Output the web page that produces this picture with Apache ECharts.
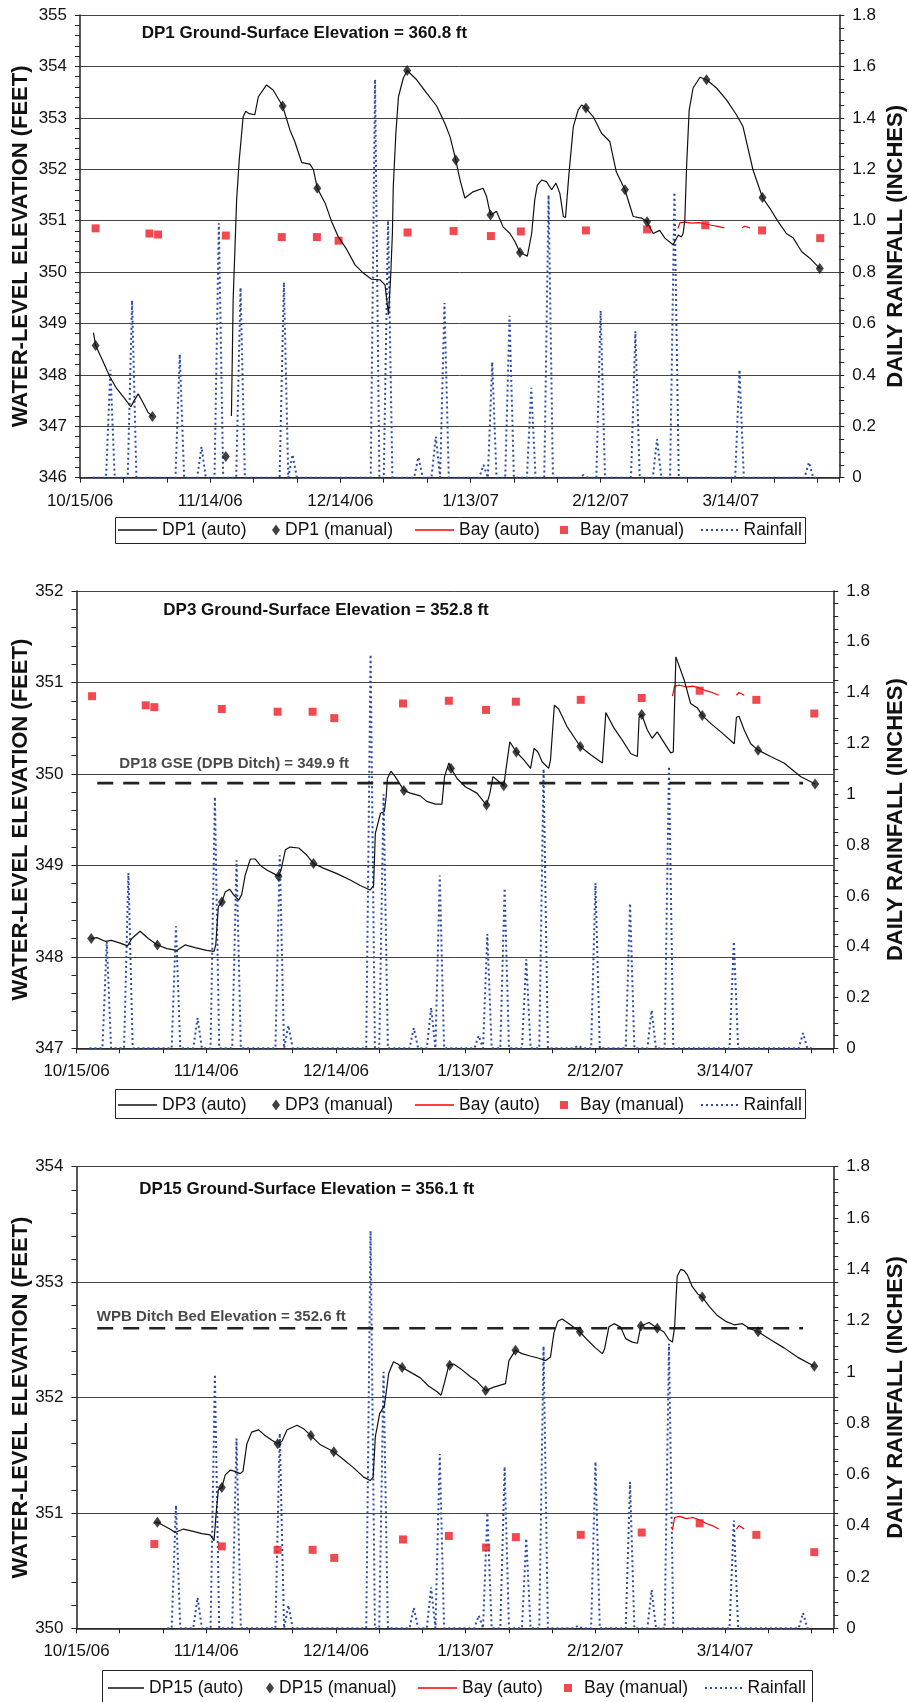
<!DOCTYPE html>
<html>
<head>
<meta charset="utf-8">
<script src="https://cdn.jsdelivr.net/npm/echarts@6/dist/echarts.min.js"></script>
<style>html,body{margin:0;padding:0;background:#fff}#c{width:909px;height:1702px}</style>
</head>
<body>
<div id="c"></div>
<script>
// ---------- DATA (x = days after 10/15/06) ----------
const xTickLabels = ['10/15/06', '11/14/06', '12/14/06', '1/13/07', '2/12/07', '3/14/07'];

const rainDays   = [7, 12, 23, 28, 32, 37, 47, 49, 68, 71, 78, 82, 84, 93, 95, 99, 104, 108, 116, 120, 128, 133, 137, 152, 168];
const rainInches = [0.42, 0.69, 0.48, 0.12, 0.99, 0.74, 0.76, 0.09, 1.55, 1.0, 0.08, 0.16, 0.68, 0.05, 0.45, 0.63, 0.35, 1.1, 0.01, 0.65, 0.57, 0.15, 1.11, 0.42, 0.06];

const bayManual = [[3.6,350.85],[16.0,350.75],[18.0,350.73],[33.6,350.71],[46.5,350.68],[54.6,350.68],[59.6,350.61],[75.5,350.77],[86.1,350.80],[94.7,350.70],[101.6,350.79],[116.6,350.81],[130.7,350.83],[144.1,350.91],[157.2,350.81],[170.6,350.66]];
const bayAutoA = [[137.8,350.85],[138.3,350.96],[139.5,350.97],[141.0,350.95],[142.5,350.96],[144.0,350.94],[145.5,350.91],[147.0,350.89],[148.5,350.86]];
const bayAutoB = [[152.6,350.86],[153.2,350.89],[154.4,350.86]];

const dp1AutoA = [[3.1,348.82],[3.6,348.57],[5.0,348.32],[6.9,347.96],[8.4,347.74],[10.4,347.53],[11.7,347.38],[12.1,347.44],[13.4,347.63],[14.2,347.51],[15.7,347.27],[16.7,347.19]];
const dp1AutoB = [[34.9,347.2],[35.3,349.46],[35.7,350.43],[36.1,351.4],[36.7,352.18],[37.6,353.02],[38.2,353.13],[39.0,353.08],[40.3,353.06],[41.1,353.41],[43.0,353.64],[44.5,353.54],[46.7,353.23],[48.4,352.76],[49.5,352.54],[51.1,352.13],[53.0,352.10],[53.8,351.99],[54.7,351.63],[56.5,351.34],[58.0,350.98],[59.5,350.69],[61.4,350.45],[63.4,350.14],[65.3,349.98],[67.2,349.86],[69.1,349.85],[70.3,349.75],[71.1,349.17],[71.6,349.91],[72.0,350.75],[72.2,351.66],[72.8,352.70],[73.4,353.41],[74.5,353.77],[75.4,353.92],[77.6,353.74],[79.9,353.48],[82.2,353.23],[84.1,352.89],[85.3,352.63],[86.6,352.18],[87.6,351.79],[88.7,351.44],[90.6,351.56],[92.9,351.63],[93.7,351.47],[94.6,351.11],[96.0,351.18],[97.5,350.88],[99.1,350.75],[100.2,350.60],[101.4,350.38],[103.1,350.31],[104.1,350.75],[104.8,351.4],[105.4,351.69],[106.4,351.79],[107.5,351.76],[108.7,351.60],[109.7,351.73],[110.6,351.53],[111.4,351.08],[111.9,351.06],[112.7,351.92],[113.7,352.83],[114.8,353.15],[115.6,353.25],[116.6,353.19],[118.3,353.02],[120.2,352.70],[122.1,352.54],[123.6,351.95],[125.6,351.60],[127.5,351.08],[129.4,351.05],[130.7,350.98],[132.1,350.75],[133.6,350.81],[134.8,350.66],[136.7,350.53],[137.9,350.72],[138.6,350.68],[139.0,350.75],[139.4,351.01],[139.8,352.05],[140.4,353.15],[141.3,353.58],[142.9,353.79],[144.4,353.74],[146.7,353.58],[149.0,353.35],[151.3,353.06],[152.8,352.83],[155.1,351.99],[157.3,351.45],[159.0,351.24],[160.9,350.98],[162.8,350.75],[164.4,350.66],[166.3,350.40],[168.2,350.27],[170.5,350.07]];
const dp1Manual = [[3.6,348.57],[16.7,347.19],[33.6,346.41],[46.7,353.23],[54.7,351.63],[75.4,353.92],[86.6,352.18],[94.6,351.11],[101.4,350.38],[116.6,353.19],[125.6,351.60],[130.7,350.98],[144.4,353.74],[157.3,351.45],[170.5,350.07]];

const dp3Auto = [[3.4,348.20],[4.7,348.21],[6.6,348.17],[8.1,348.18],[10.1,348.15],[11.8,348.12],[12.8,348.20],[14.7,348.28],[16.6,348.20],[18.7,348.13],[20.9,348.09],[23.2,348.07],[25.1,348.13],[27.4,348.10],[30.1,348.07],[31.8,348.06],[32.2,348.13],[32.8,348.55],[33.6,348.60],[34.4,348.71],[35.4,348.74],[36.3,348.68],[37.5,348.62],[38.2,348.68],[39.0,348.89],[40.2,349.07],[41.3,349.07],[42.5,349.00],[44.0,348.95],[45.6,348.91],[46.7,348.88],[47.3,348.95],[48.3,349.17],[49.4,349.20],[51.4,349.19],[53.3,349.11],[54.8,349.02],[57.1,348.97],[60.2,348.91],[63.3,348.84],[65.6,348.78],[67.9,348.73],[68.7,348.78],[69.1,349.35],[70.3,349.57],[71.2,349.59],[71.6,349.75],[71.9,349.95],[72.7,350.03],[73.7,349.97],[75.7,349.82],[77.2,349.79],[79.5,349.76],[81.0,349.70],[83.0,349.67],[84.5,349.67],[85.1,349.97],[86.1,350.12],[86.6,350.06],[88.0,349.95],[89.9,349.86],[92.6,349.79],[94.8,349.66],[95.6,349.79],[96.3,349.97],[97.3,349.93],[98.8,349.87],[99.4,350.08],[100.2,350.35],[101.7,350.24],[103.5,350.15],[105.0,350.06],[105.8,350.28],[106.7,350.24],[107.7,350.13],[109.2,350.06],[109.6,350.15],[110.5,350.75],[111.5,350.71],[113.4,350.52],[116.5,350.30],[118.9,350.21],[121.6,350.12],[122.0,350.13],[122.4,350.67],[124.3,350.50],[126.2,350.37],[128.2,350.22],[129.7,350.19],[130.1,350.62],[130.7,350.65],[132.0,350.48],[133.1,350.39],[134.3,350.46],[135.5,350.37],[137.4,350.23],[138.0,350.24],[138.6,351.28],[140.5,351.03],[142.0,350.77],[143.6,350.72],[144.7,350.64],[146.7,350.55],[149.0,350.46],[152.1,350.33],[152.6,350.62],[153.2,350.63],[154.4,350.48],[155.9,350.33],[157.6,350.26],[160.5,350.19],[163.6,350.12],[167.5,349.97],[170.8,349.89]];
const dp3Manual = [[3.4,348.20],[18.7,348.13],[33.6,348.60],[46.7,348.88],[54.8,349.02],[75.7,349.82],[86.6,350.06],[94.8,349.66],[98.8,349.87],[101.7,350.24],[116.5,350.30],[130.7,350.65],[144.7,350.64],[157.6,350.26],[170.8,349.89]];

const dp15Auto = [[17.8,350.91],[18.7,350.92],[20.1,350.89],[21.6,350.86],[22.8,350.83],[24.7,350.86],[27.0,350.84],[29.0,350.82],[30.9,350.81],[31.8,350.76],[32.3,351.0],[32.8,351.20],[33.6,351.22],[34.4,351.33],[35.5,351.37],[36.7,351.36],[37.8,351.34],[38.5,351.36],[39.4,351.60],[40.5,351.70],[42.1,351.72],[43.6,351.67],[45.2,351.63],[46.5,351.60],[47.5,351.62],[48.7,351.72],[51.0,351.76],[52.5,351.73],[54.2,351.67],[56.4,351.59],[59.5,351.53],[61.8,351.46],[64.1,351.39],[66.4,351.31],[67.9,351.28],[68.6,351.31],[69.1,351.66],[70.1,351.86],[71.2,351.93],[71.6,352.04],[72.2,352.21],[73.3,352.31],[74.3,352.29],[75.3,352.26],[77.2,352.22],[79.5,352.17],[81.4,352.10],[83.4,352.05],[84.3,352.02],[85.1,352.13],[86.1,352.28],[87.2,352.29],[88.8,352.25],[91.1,352.18],[92.6,352.14],[94.6,352.06],[96.5,352.09],[99.2,352.12],[100.0,352.32],[101.5,352.41],[103.0,352.38],[104.9,352.36],[106.9,352.34],[108.5,352.32],[109.6,352.35],[110.4,352.56],[111.3,352.66],[112.3,352.68],[114.2,352.63],[116.4,352.57],[118.1,352.50],[120.0,352.43],[121.6,352.38],[122.1,352.42],[123.1,352.61],[124.3,352.64],[125.8,352.61],[127.0,352.51],[128.5,352.48],[129.7,352.47],[130.5,352.62],[132.4,352.65],[134.3,352.60],[135.8,352.57],[137.0,352.50],[137.8,352.48],[138.3,352.61],[138.9,353.05],[139.7,353.11],[140.5,353.10],[141.3,353.06],[142.4,352.96],[143.6,352.90],[144.7,352.87],[146.3,352.79],[148.2,352.71],[150.1,352.66],[152.1,352.63],[154.0,352.64],[155.5,352.60],[157.6,352.57],[160.5,352.50],[163.6,352.43],[166.7,352.35],[170.6,352.27]];
const dp15Manual = [[18.7,350.92],[33.6,351.22],[46.5,351.60],[54.2,351.67],[59.5,351.53],[75.3,352.26],[86.3,352.28],[94.6,352.06],[101.5,352.41],[116.4,352.57],[130.5,352.62],[134.3,352.60],[144.7,352.87],[157.6,352.57],[170.6,352.27]];

const panelTitles = ['DP1 Ground-Surface Elevation = 360.8 ft', 'DP3 Ground-Surface Elevation = 352.8 ft', 'DP15 Ground-Surface Elevation = 356.1 ft'];
const refLineText = ['', 'DP18 GSE (DPB Ditch) = 349.9 ft', 'WPB Ditch Bed Elevation = 352.6 ft'];
const refLineLevel = [null, 349.9, 352.6];
const refLineSpan = [4.8, 168];
const refLabelAnchor = [null, [9.9, 350.11], [4.7, 352.70]];

// ---------- BUILD ----------
const FONT = '"Liberation Sans", Arial, Helvetica, sans-serif';
function rainSeries(fromDay) {
  const out = [];
  for (let d = fromDay; d <= 170; d++) {
    const k = rainDays.indexOf(d);
    out.push([d, k >= 0 ? rainInches[k] : 0]);
  }
  return out;
}
const bayAuto = bayAutoA.concat([[150.5, '-']], bayAutoB);

// dotted legend icon (2px dots, 3px gaps)
let dotPath = 'path://';
for (let x = 0; x < 38; x += 5) dotPath += 'M' + x + ' 0h2v2h-2z';

const panels = [
  { well: 'DP1', auto: dp1AutoA.concat([[25, '-']], dp1AutoB), manual: dp1Manual, yMin: 346, yMax: 355,
    rainFrom: 3, bayFrom: 0, rightFmt: v => (v === 0 ? '0' : v.toFixed(1)),
    grid: { left: 80, top: 15, width: 759.3, height: 462.7 }, titlePos: [141.7, 23.3] },
  { well: 'DP3', auto: dp3Auto, manual: dp3Manual, yMin: 347, yMax: 352,
    rainFrom: 3, bayFrom: 0, rightFmt: v => String(+v.toFixed(1)),
    grid: { left: 76.5, top: 591, width: 756.8, height: 457.3 }, titlePos: [163.3, 600.7] },
  { well: 'DP15', auto: dp15Auto, manual: dp15Manual, yMin: 350, yMax: 354,
    rainFrom: 21, bayFrom: 17, rightFmt: v => String(+v.toFixed(1)),
    grid: { left: 76.5, top: 1166.7, width: 756.8, height: 461.6 }, titlePos: [139.3, 1179.3] }
];

// legend layout per panel: [left, itemWidth, itemHeight, extra text pad, icon]
const legendLayouts = [
  { box: [115, 517, 690, 26], top: 519.5, items: [[118, 39, 1.3, 0, 'rect'], [272, 8, 11, 0, null], [415, 39, 1.5, 0, 'rect'], [560, 8, 8, 7, null], [701, 38, 2, 0, dotPath]] },
  { box: [115, 1089, 690, 29], top: 1094.5, items: [[118, 39, 1.3, 0, 'rect'], [272, 8, 11, 0, null], [415, 39, 1.5, 0, 'rect'], [560, 8, 8, 7, null], [701, 38, 2, 0, dotPath]] },
  { box: [102, 1670, 710, 36], top: 1677.5, items: [[108, 36, 1.3, 0, 'rect'], [266, 8, 11, 0, null], [418, 39, 1.5, 0, 'rect'], [564, 8, 8, 7, null], [705, 38, 2, 0, dotPath]] }
];

const option = {
  animation: false,
  backgroundColor: '#fff',
  textStyle: { fontFamily: FONT },
  title: [], grid: [], xAxis: [], yAxis: [], series: [], legend: [], graphic: []
};

panels.forEach((p, i) => {
  option.grid.push(Object.assign({ containLabel: false, outerBoundsMode: 'none' }, p.grid));
  option.title.push({
    text: panelTitles[i], left: p.titlePos[0], top: p.titlePos[1], padding: 0,
    textStyle: { fontSize: 17, fontWeight: 'bold', color: '#111', fontFamily: FONT, lineHeight: 20 }
  });
  option.xAxis.push({
    gridIndex: i, type: 'value', min: 0, max: 175, interval: 10,
    axisLine: { show: true, onZero: false, lineStyle: { color: '#222', width: 1.5 } },
    axisTick: { show: true, length: 5, lineStyle: { color: '#222', width: 1 } },
    axisLabel: {
      fontSize: 17, color: '#111', fontFamily: FONT, margin: 15, showMinLabel: true, showMaxLabel: true,
      formatter: v => (v % 30 === 0 && v / 30 < xTickLabels.length ? xTickLabels[v / 30] : '')
    },
    splitLine: { show: false }
  });
  option.yAxis.push({
    gridIndex: i, type: 'value', position: 'left', min: p.yMin, max: p.yMax, interval: 1,
    name: 'WATER-LEVEL ELEVATION (FEET)', nameLocation: 'middle', nameRotate: 90, nameGap: p.grid.left - 32,
    nameMoveOverlap: false,
    nameTextStyle: { fontSize: 22, fontWeight: 'bold', color: '#111', fontFamily: FONT, lineHeight: 22 },
    axisLine: { show: true, lineStyle: { color: '#222', width: 1.5 } },
    axisTick: { show: true, length: 5, lineStyle: { color: '#222' } },
    minorTick: { show: true, splitNumber: 5, length: 5, lineStyle: { color: '#222' } },
    axisLabel: { fontSize: 17, color: '#111', fontFamily: FONT, margin: 13 },
    splitLine: { show: true, lineStyle: { color: '#444', width: 1 } }
  });
  option.yAxis.push({
    gridIndex: i, type: 'value', position: 'right', min: 0, max: 1.8, interval: 0.2,
    name: 'DAILY RAINFALL (INCHES)', nameLocation: 'middle', nameRotate: 90, nameGap: i === 0 ? 46 : 52,
    nameMoveOverlap: false,
    nameTextStyle: { fontSize: 22, fontWeight: 'bold', color: '#111', fontFamily: FONT, lineHeight: 22 },
    axisLine: { show: true, lineStyle: { color: '#222', width: 1.5 } },
    axisTick: { show: true, length: 5, lineStyle: { color: '#222' } },
    minorTick: { show: true, splitNumber: 4, length: 5, lineStyle: { color: '#222' } },
    axisLabel: { fontSize: 17, color: '#111', fontFamily: FONT, margin: 13, formatter: p.rightFmt },
    splitLine: { show: false }
  });

  const yl = 2 * i, yr = 2 * i + 1;
  option.series.push({
    type: 'line', name: 'Rainfall', xAxisIndex: i, yAxisIndex: yr, data: rainSeries(p.rainFrom),
    symbol: 'none', z: 2, lineStyle: { color: '#2b4ba7', width: 2, type: [2, 3] }, itemStyle: { color: '#2b4ba7' }
  });
  if (refLineLevel[i] !== null) {
    option.series.push({
      type: 'line', name: 'ref' + i, xAxisIndex: i, yAxisIndex: yl, silent: true,
      data: [[refLineSpan[0], refLineLevel[i]], [refLineSpan[1], refLineLevel[i]]],
      symbol: 'none', z: 3, lineStyle: { color: '#222', width: 2.7, type: [16, 10] }
    });
    option.series.push({
      type: 'scatter', name: 'refLabel' + i, xAxisIndex: i, yAxisIndex: yl, silent: true,
      data: [refLabelAnchor[i]], symbolSize: 0, z: 6,
      label: { show: true, position: 'right', distance: 0, formatter: refLineText[i],
        fontSize: 15, fontWeight: 'bold', color: '#1a1a1a', fontFamily: FONT }
    });
  }
  option.series.push({
    type: 'line', name: 'Bay (auto)', xAxisIndex: i, yAxisIndex: yl, data: bayAuto,
    symbol: 'none', z: 4, lineStyle: { color: '#ff0000', width: 1.2 }, itemStyle: { color: '#ff0000' }
  });
  option.series.push({
    type: 'scatter', name: 'Bay (manual)', xAxisIndex: i, yAxisIndex: yl,
    data: bayManual.filter(d => d[0] >= p.bayFrom), symbol: 'rect', symbolSize: 8, z: 5,
    itemStyle: { color: '#ee1c24' }
  });
  option.series.push({
    type: 'line', name: p.well + ' (auto)', xAxisIndex: i, yAxisIndex: yl, data: p.auto,
    symbol: 'none', z: 6, lineStyle: { color: '#111', width: 1.2 }, itemStyle: { color: '#111' }
  });
  option.series.push({
    type: 'scatter', name: p.well + ' (manual)', xAxisIndex: i, yAxisIndex: yl, data: p.manual,
    symbol: 'diamond', symbolSize: [8, 11], z: 7, itemStyle: { color: '#111' }
  });

  const L = legendLayouts[i];
  const names = [p.well + ' (auto)', p.well + ' (manual)', 'Bay (auto)', 'Bay (manual)', 'Rainfall'];
  names.forEach((nm, k) => {
    const it = L.items[k];
    const lg = {
      data: [nm], left: it[0], top: L.top, itemWidth: it[1], itemHeight: it[2], padding: 0,
      selectedMode: false,
      textStyle: { fontSize: 17.5, color: '#111', fontFamily: FONT, lineHeight: 21, padding: [0, 0, 0, it[3]] }
    };
    if (it[4]) lg.icon = it[4];
    option.legend.push(lg);
  });
  option.graphic.push({
    type: 'rect', silent: true, z: 100,
    shape: { x: L.box[0] + 0.5, y: L.box[1] + 0.5, width: L.box[2], height: L.box[3] },
    style: { fill: 'none', stroke: '#222', lineWidth: 1 }
  });
});

const chart = echarts.init(document.getElementById('c'), null, { renderer: 'canvas' });
chart.setOption(option);
</script>
</body>
</html>
